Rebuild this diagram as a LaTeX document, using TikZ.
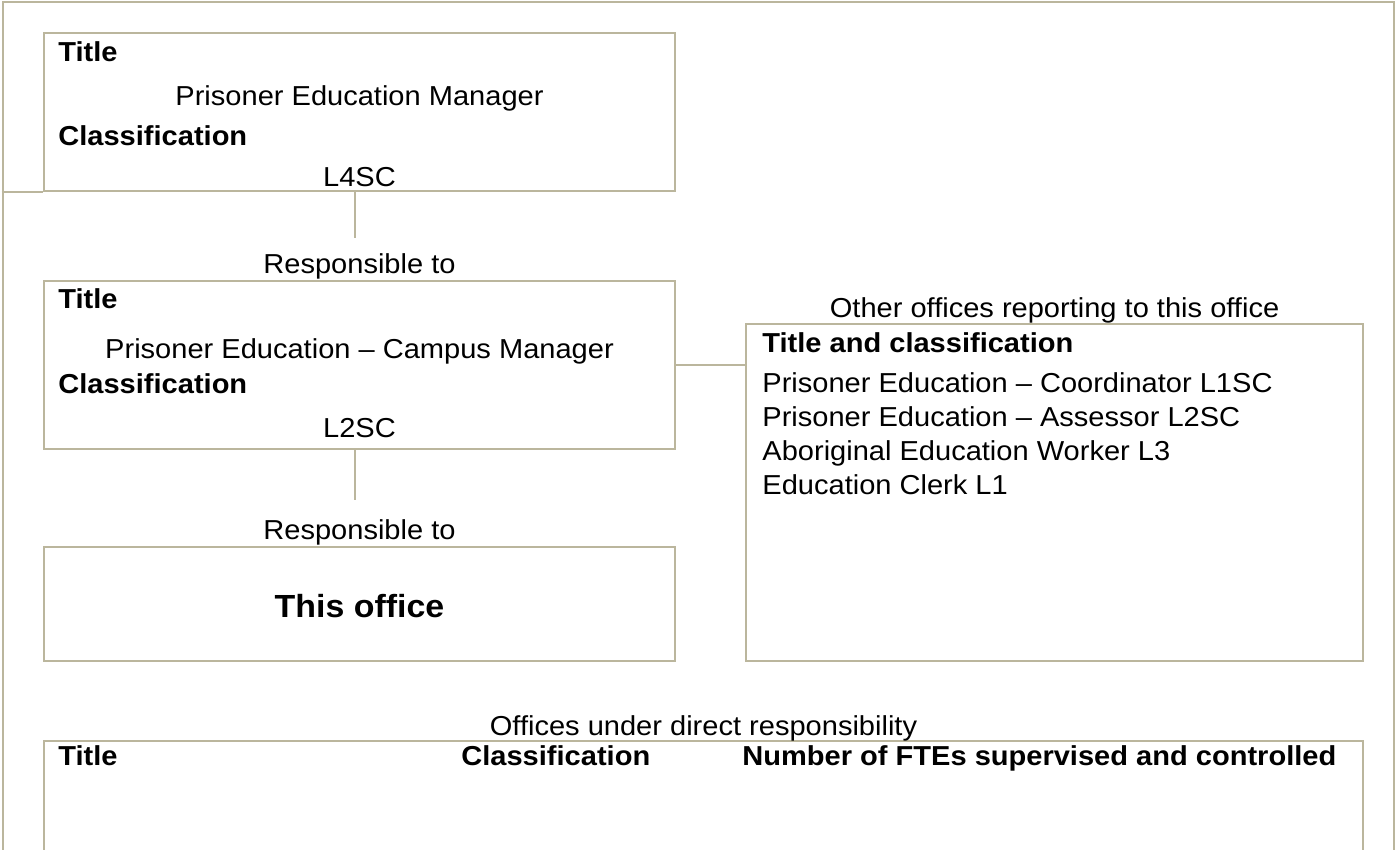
\documentclass[tikz,border=0pt]{standalone}
\usepackage{fontspec}
\setmainfont{Liberation Sans}[FakeStretch=1.06]
\definecolor{rulegray}{RGB}{187,182,157}

\begin{document}
\begin{tikzpicture}[
  x=0.5pt, y=-0.5pt,
  font=\fontsize{13.7}{16}\selectfont,
  box/.style={rectangle, draw=rulegray, line width=1pt, inner sep=0pt},
  conn/.style={draw=rulegray, line width=1pt},
  txt/.style={inner sep=0pt, anchor=base west},
  ctr/.style={inner sep=0pt, anchor=base},
  head/.style={txt, font=\fontsize{13.7}{16}\selectfont\bfseries}
]
  \useasboundingbox (0,0) rectangle (1397,850);

  % page frame and boxes
  \node[box, line width=1.25pt, minimum width=695.5pt, minimum height=499pt] (page) at (698.5,501) {};
  \node[box, minimum width=315.5pt, minimum height=79pt] (mgr) at (359.5,112) {};
  \node[box, minimum width=315.5pt, minimum height=84pt] (campus) at (359.5,365) {};
  \node[box, minimum width=315.5pt, minimum height=57pt] (office) at (359.5,604) {};
  \node[box, minimum width=308.5pt, minimum height=168.5pt] (others) at (1054.5,492.5) {};
  \node[box, minimum width=659.5pt, minimum height=129.5pt] (direct) at (703.5,870.5) {};

  % connectors
  \coordinate (r1) at (355,238);
  \coordinate (r2) at (355,500);
  \draw[conn] (page.west |- mgr.south) -- (mgr.south west);
  \draw[conn] (mgr.south -| r1) -- (r1);
  \draw[conn] (campus.south -| r2) -- (r2);
  \draw[conn] (campus.east) -- (campus.east -| others.west);

  % manager
  \node[head] (mgrtitle) at (58,62) {Title};
  \node[ctr] (mgrname) at (359.5,106) {Prisoner Education Manager};
  \node[head] (mgrclass) at (58,146) {Classification};
  \node[ctr] (mgrlevel) at (359.5,187) {L4SC};
  \node[ctr] (resp1) at (359.5,274) {Responsible to};

  % campus manager
  \node[head] (camptitle) at (58,308) {Title};
  \node[ctr] (campname) at (359.5,358) {Prisoner Education – Campus Manager};
  \node[head] (campclass) at (58,393) {Classification};
  \node[ctr] (camplevel) at (359.5,437) {L2SC};
  \node[ctr] (resp2) at (359.5,539) {Responsible to};

  % this office
  \node[ctr, font=\fontsize{16}{18}\selectfont\bfseries] (officename) at (359.5,617) {This office};

  % other offices
  \node[ctr] (othcap) at (1054.5,317) {Other offices reporting to this office};
  \node[head] (othhead) at (762,352) {Title and classification};
  \node[txt] (oth1) at (762,392) {Prisoner Education – Coordinator L1SC};
  \node[txt] (oth2) at (762,426) {Prisoner Education – Assessor L2SC};
  \node[txt] (oth3) at (762,460) {Aboriginal Education Worker L3};
  \node[txt] (oth4) at (762,494) {Education Clerk L1};

  % direct responsibility
  \node[ctr] (dircap) at (703.5,735) {Offices under direct responsibility};
  \node[head] (dirtitle) at (58,765) {Title};
  \node[head] (dirclass) at (461,765) {Classification};
  \node[head] (dirfte) at (742,765) {Number of FTEs supervised and controlled};
\end{tikzpicture}
\end{document}
